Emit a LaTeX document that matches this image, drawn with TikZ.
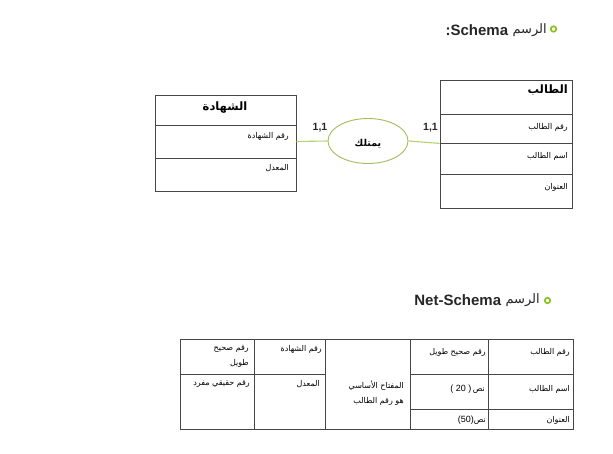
\documentclass[tikz,border=0pt]{standalone}
\usepackage{fontspec}
\setmainfont{Liberation Sans}
\newfontfamily\arabicfont[Script=Arabic]{DejaVu Sans}
\TeXXeTstate=1
\usetikzlibrary{shapes.geometric}

% right-to-left Arabic run
\newcommand{\artxt}[1]{{\arabicfont\beginR #1\endR}}
% Latin type size used for the numbers in the table
\newcommand{\numtxt}[1]{{\normalfont\fontsize{9}{10}\selectfont #1}}

\definecolor{bulletgreen}{RGB}{140,194,30}
\definecolor{relgreen}{RGB}{160,190,90}
\definecolor{linkgreen}{RGB}{180,210,110}
\definecolor{framegray}{RGB}{70,70,70}
\definecolor{titlegray}{RGB}{38,38,38}

\tikzset{
  cellbox/.style={draw=framegray, line width=0.8pt, inner sep=0pt},
  bulletmark/.style={circle, draw=bulletgreen, line width=1.7pt, minimum size=5.5pt, inner sep=0pt},
  titleen/.style={inner sep=0pt, anchor=east, text=titlegray, font=\bfseries\fontsize{15}{17}\selectfont},
  titlear/.style={inner sep=0pt, anchor=east, text=titlegray, font=\arabicfont\fontsize{13}{15}\selectfont},
  headtxt/.style={inner sep=0pt, font=\arabicfont\bfseries\fontsize{11.5}{13}\selectfont},
  reltxt/.style={inner sep=0pt, font=\arabicfont\bfseries\fontsize{9.5}{11}\selectfont},
  celltxt/.style={inner sep=0pt, anchor=east, font=\arabicfont\fontsize{8}{9.5}\selectfont},
  tabtxt/.style={inner sep=0pt, anchor=east, font=\arabicfont\fontsize{8}{9.5}\selectfont},
  relation/.style={ellipse, draw=relgreen, line width=0.9pt, minimum width=80pt, minimum height=45pt, inner sep=0pt},
  link/.style={draw=linkgreen, line width=1.1pt},
  cardtxt/.style={inner sep=0pt, font=\bfseries\fontsize{10.5}{12}\selectfont, text=titlegray}
}

\begin{document}
\begin{tikzpicture}[x=1pt,y=-1pt]
\useasboundingbox (0,0) rectangle (613,453);

% ---- Schema title ----
\node[bulletmark] (bulletA) at (553.5,29) {};
\node[titlear] (titleArA) at (547,30) {\artxt{الرسم}};
\node[titleen] (titleEnA) at ([xshift=-4pt]titleArA.west) {:Schema};

% ---- entity: certificate ----
\node[cellbox, minimum width=141pt, minimum height=30pt] (shHead) at (225.5,110) {};
\node[cellbox, minimum width=141pt, minimum height=33pt] (shR1) at (225.5,141.5) {};
\node[cellbox, minimum width=141pt, minimum height=33pt] (shR2) at (225.5,174.5) {};
\node[headtxt] (shHeadT) at (225,108) {\artxt{الشهادة}};
\node[celltxt] (shR1T) at (289,136.5) {\artxt{رقم الشهادة}};
\node[celltxt] (shR2T) at (289,168) {\artxt{المعدل}};

% ---- entity: student ----
\node[cellbox, minimum width=132pt, minimum height=34pt] (stHead) at (506,97) {};
\node[cellbox, minimum width=132pt, minimum height=29pt] (stR1) at (506,128.5) {};
\node[cellbox, minimum width=132pt, minimum height=31pt] (stR2) at (506,158.5) {};
\node[cellbox, minimum width=132pt, minimum height=34pt] (stR3) at (506,191) {};
\node[headtxt, anchor=east] (stHeadT) at (568,90) {\artxt{الطالب}};
\node[celltxt] (stR1T) at (568,127) {\artxt{رقم الطالب}};
\node[celltxt] (stR2T) at (568,156.5) {\artxt{اسم الطالب}};
\node[celltxt] (stR3T) at (568,187) {\artxt{العنوان}};

% ---- relationship ----
\node[relation] (rel) at (368,141) {};
\node[reltxt] (relT) at (368,144) {\artxt{يمتلك}};
\draw[link] (shR1.east) -- (rel.west);
\draw[link] (rel.east) -- (stR1.south west);
\node[cardtxt] (cardL) at (320,127.5) {1,1};
\node[cardtxt] (cardR) at (430.5,127.5) {1,1};

% ---- Net-Schema title ----
\node[bulletmark] (bulletB) at (547.5,300.5) {};
\node[titlear] (titleArB) at (540,300) {\artxt{الرسم}};
\node[titleen] (titleEnB) at ([xshift=-4pt]titleArB.west) {Net-Schema};

% ---- relational table ----
\node[cellbox, minimum width=74pt, minimum height=35pt] (tA1) at (217,356.5) {};
\node[cellbox, minimum width=74pt, minimum height=55pt] (tA2) at (217,401.5) {};
\node[cellbox, minimum width=71pt, minimum height=35pt] (tB1) at (289.5,356.5) {};
\node[cellbox, minimum width=71pt, minimum height=55pt] (tB2) at (289.5,401.5) {};
\node[cellbox, minimum width=85pt, minimum height=90pt] (tC) at (367.5,384) {};
\node[cellbox, minimum width=78pt, minimum height=35pt] (tD1) at (449,356.5) {};
\node[cellbox, minimum width=78pt, minimum height=35pt] (tD2) at (449,391.5) {};
\node[cellbox, minimum width=78pt, minimum height=20pt] (tD3) at (449,419) {};
\node[cellbox, minimum width=85pt, minimum height=35pt] (tE1) at (530.5,356.5) {};
\node[cellbox, minimum width=85pt, minimum height=35pt] (tE2) at (530.5,391.5) {};
\node[cellbox, minimum width=85pt, minimum height=20pt] (tE3) at (530.5,419) {};

\node[tabtxt] (tE1T) at (570,352) {\artxt{رقم الطالب}};
\node[tabtxt] (tE2T) at (570,389) {\artxt{اسم الطالب}};
\node[tabtxt] (tE3T) at (570,420) {\artxt{العنوان}};
\node[tabtxt] (tD1T) at (486,352) {\artxt{رقم صحيح طويل}};
\node[tabtxt] (tD2T) at (485,389) {\numtxt{( 20 )}\,\artxt{نص}};
\node[tabtxt] (tD3T) at (486,420) {\numtxt{(50)}\artxt{نص}};
\node[tabtxt] (tCT1) at (404,386) {\artxt{المفتاح الأساسي}};
\node[tabtxt] (tCT2) at (404,401) {\artxt{هو رقم الطالب}};
\node[tabtxt] (tB1T) at (322,349) {\artxt{رقم الشهادة}};
\node[tabtxt] (tB2T) at (320,384) {\artxt{المعدل}};
\node[tabtxt] (tA1T1) at (249,349) {\artxt{رقم صحيح}};
\node[tabtxt] (tA1T2) at (249,363) {\artxt{طويل}};
\node[tabtxt] (tA2T) at (250,384) {\artxt{رقم حقيقي مفرد}};
\end{tikzpicture}
\end{document}
